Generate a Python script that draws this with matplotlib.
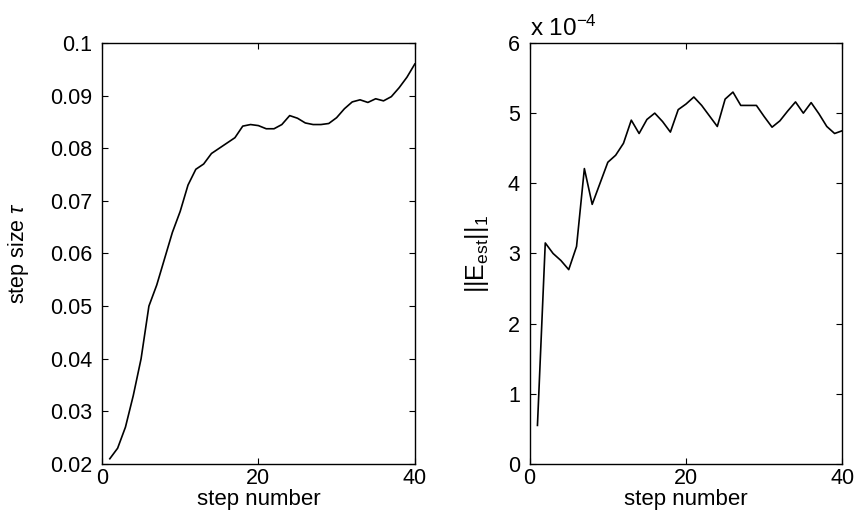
import numpy as np
import matplotlib
matplotlib.use('Agg')
import matplotlib.pyplot as plt

plt.rcParams['font.family'] = ['Liberation Sans', 'DejaVu Sans']
plt.rcParams['mathtext.fontset'] = 'custom'
plt.rcParams['mathtext.rm'] = 'Liberation Sans'
plt.rcParams['mathtext.it'] = 'Liberation Sans:italic'
plt.rcParams['mathtext.sf'] = 'Liberation Sans'

# step numbers
steps = np.arange(1, 41)

# step size tau per step
tau_vals = [0.021, 0.023, 0.027, 0.033, 0.040, 0.050, 0.054, 0.059, 0.064, 0.068,
            0.073, 0.076, 0.077, 0.079, 0.080, 0.081, 0.082, 0.0842, 0.0845, 0.0843,
            0.0837, 0.0837, 0.0845, 0.0862, 0.0857, 0.0848, 0.0845, 0.0845, 0.0847, 0.0858,
            0.0875, 0.0888, 0.0892, 0.0887, 0.0894, 0.0890, 0.0898, 0.0915, 0.0935, 0.0960]

# ||E_est||_1 per step, in units of 1e-4
err_vals = [0.55, 3.15, 3.00, 2.90, 2.77, 3.10, 4.21, 3.70, 4.00, 4.30,
            4.40, 4.57, 4.90, 4.71, 4.91, 5.00, 4.88, 4.73, 5.05, 5.13,
            5.23, 5.11, 4.96, 4.81, 5.20, 5.30, 5.11, 5.11, 5.11, 4.95,
            4.80, 4.89, 5.03, 5.16, 5.00, 5.15, 4.99, 4.81, 4.71, 4.75]

fig = plt.figure(figsize=(8.57, 5.24), dpi=100)
ax1 = fig.add_axes([0.119, 0.1145, 0.365, 0.8035])
ax2 = fig.add_axes([0.618, 0.1145, 0.365, 0.8035])

fs = 15.5

def style(ax):
    ax.set_xlim(0, 40)
    ax.set_xticks([0, 20, 40])
    ax.tick_params(direction='in', top=True, right=True, length=4, width=0.8,
                   labelsize=fs)
    ax.tick_params(axis='y', pad=7)
    ax.tick_params(axis='x', pad=3)
    for s in ax.spines.values():
        s.set_linewidth(1.0)
    ax.set_xlabel('step number', fontsize=fs + 0.5, labelpad=0)

ax1.plot(steps, tau_vals, color='black', lw=1.2)
style(ax1)
ax1.set_ylim(0.02, 0.1)
ax1.set_yticks(np.arange(0.02, 0.1001, 0.01))
ax1.set_yticklabels(['0.02', '0.03', '0.04', '0.05', '0.06', '0.07', '0.08', '0.09', '0.1'])
ax1.set_ylabel(r'step size $\tau$', fontsize=fs, labelpad=14)

ax2.plot(steps, err_vals, color='black', lw=1.2)
style(ax2)
ax2.set_ylim(0, 6)
ax2.set_yticks(range(0, 7))
ax2.set_ylabel(r'$\mathrm{||E_{est}||_1}$', fontsize=fs + 2.5, labelpad=12)
ax2.text(0.0, 1.005, r'x 10$^{-4}$', transform=ax2.transAxes, fontsize=fs + 2,
         ha='left', va='bottom')

fig.savefig('out.png', dpi=100)
